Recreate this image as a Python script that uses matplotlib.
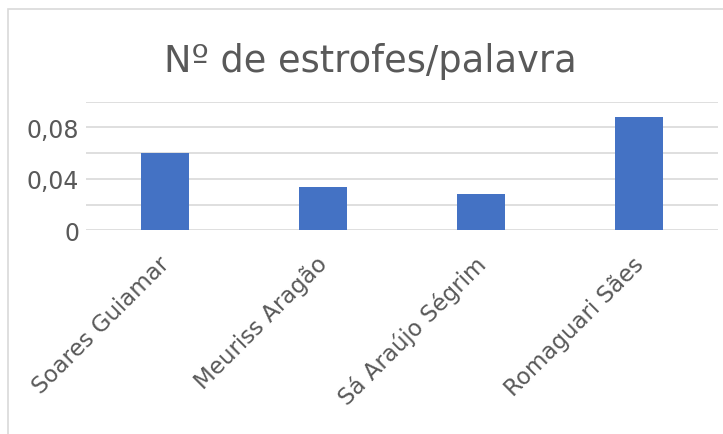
import matplotlib
matplotlib.use("Agg")
import matplotlib.pyplot as plt
from matplotlib.patches import Rectangle
from matplotlib.transforms import ScaledTranslation

# ---------- data ----------
autores = ["Soares Guiamar", "Meuriss Aragão", "Sá Araújo Ségrim", "Romaguari Sães"]
estrofes_por_palavra = [0.060, 0.034, 0.028, 0.088]
yticks_grid = [0, 0.02, 0.04, 0.06, 0.08, 0.10]
yticks_label = ["0", "", "0,04", "", "0,08", ""]

cor_barra = "#4472C4"
cor_texto = "#595959"
cor_grade = "#D9D9D9"

W, H = 723, 435
fig = plt.figure(figsize=(W / 100, H / 100), dpi=100)
fig.patch.set_facecolor("white")

# chart border (only top/left visible in the crop)
fig.patches.append(Rectangle((8 / W, -0.1), 1.2, 1 - 10 / H + 0.1,
                             transform=fig.transFigure, fill=False,
                             edgecolor="#D9D9D9", linewidth=1.2))

ax = fig.add_axes([86 / W, 1 - 231.3 / H, (718 - 86) / W, (231.3 - 102.7) / H])

x = range(len(autores))
ax.bar(x, estrofes_por_palavra, width=0.305, color=cor_barra, zorder=3)

ax.set_xlim(-0.5, len(autores) - 0.5)
ax.set_ylim(0, 0.10)
ax.set_yticks(yticks_grid)
ax.set_yticklabels(yticks_label)
ax.yaxis.grid(True, color=cor_grade, linewidth=1.2, zorder=0)
for s in ax.spines.values():
    s.set_visible(False)
ax.tick_params(axis="y", length=0, pad=5, labelsize=17, labelcolor=cor_texto)

ax.set_xticks(list(x))
ax.set_xticklabels(autores, rotation=45, ha="right", rotation_mode="anchor",
                   fontsize=16.5, color=cor_texto)
ax.tick_params(axis="x", length=0, pad=15.5)
offset = ScaledTranslation(-7 / 100, 0, fig.dpi_scale_trans)
for lbl in ax.get_xticklabels():
    lbl.set_transform(lbl.get_transform() + offset)

fig.text(370 / W, 1 - 62 / H, "Nº de estrofes/palavra", ha="center", va="center",
         fontsize=26.5, color=cor_texto)

fig.savefig("out.png", dpi=100, facecolor="white")
